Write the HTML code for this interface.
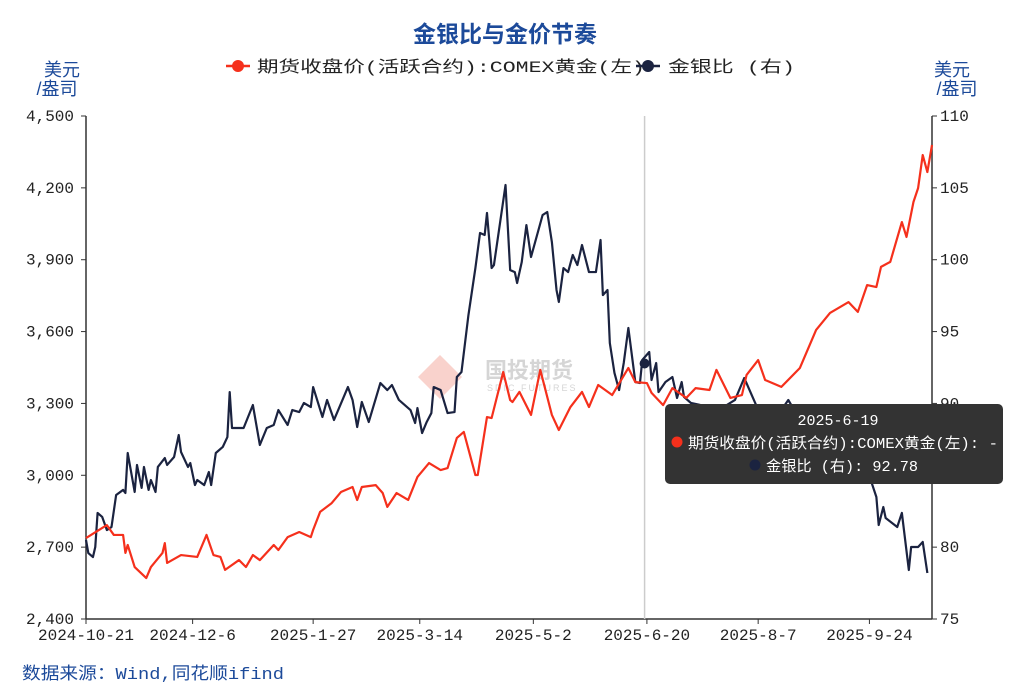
<!DOCTYPE html>
<html><head><meta charset="utf-8"><style>
body{margin:0;background:#fff;width:1022px;height:691px;overflow:hidden;font-family:"Liberation Sans","Noto Sans CJK SC",sans-serif}
svg text{font-family:"Liberation Sans","Noto Sans CJK SC",sans-serif}
svg text.m{font-family:"Liberation Mono","Noto Sans CJK SC",monospace}
</style></head><body>
<svg id="c" width="1022" height="691">
<text x="505" y="42" text-anchor="middle" font-size="23" font-weight="bold" fill="#1c4a9a">金银比与金价节奏</text>
<g>
<g><line x1="226" y1="66" x2="250" y2="66" stroke="#f5301c" stroke-width="2.5"/><circle cx="238" cy="66" r="6" fill="#f5301c"/><text class="m" x="257" y="72" font-size="16" fill="#222" textLength="388" lengthAdjust="spacingAndGlyphs">期货收盘价(活跃合约):COMEX黄金(左)</text></g>
<g><line x1="636" y1="66" x2="660" y2="66" stroke="#1b2340" stroke-width="2.5"/><circle cx="648" cy="66" r="6" fill="#1b2340"/><text class="m" x="668" y="72" font-size="16" fill="#222" textLength="127" lengthAdjust="spacingAndGlyphs">金银比 (右)</text></g>
</g>
<text x="62" y="76" text-anchor="middle" font-size="18" fill="#1c4a9a">美元</text>
<text x="57" y="95" text-anchor="middle" font-size="18" fill="#1c4a9a">/盎司</text>
<text x="952" y="76" text-anchor="middle" font-size="18" fill="#1c4a9a">美元</text>
<text x="957" y="95" text-anchor="middle" font-size="18" fill="#1c4a9a">/盎司</text>
<g opacity="0.35">
<polygon points="440,355 462,377 440,399 418,377" fill="#f08070"/>
<text x="485" y="378" font-size="22" font-weight="bold" fill="#888">国投期货</text>
<text x="487" y="391" font-size="9" fill="#888" letter-spacing="2">SDIC FUTURES</text>
</g>
<g id="axes"></g>
<g id="series"></g>
<g id="tip"></g>
<text class="m" x="22" y="679" font-size="17" fill="#1c4a9a" textLength="262" lengthAdjust="spacingAndGlyphs">数据来源：Wind,同花顺ifind</text>
</svg>
<script>
const goldDays=[0,9,12,16,17,18,21,26,28,33,34,35,41,48,52,55,58,60,66,69,72,75,81,83,87,92,97,98,101,106,110,115,117,119,125,128,130,134,139,143,148,153,156,160,163,168,169,173,175,180,183,184,187,192,196,201,204,209,214,217,221,227,234,237,242,244,249,253,259,263,269,272,278,283,285,290,293,300,308,315,321,329,333,337,341,343,347,350,352,354,357,359,361,363,365];
const goldPrice=[2738,2792,2751,2751,2676,2709,2617,2571,2617,2676,2717,2634,2667,2659,2751,2667,2659,2605,2646,2617,2667,2646,2709,2688,2742,2763,2742,2772,2847,2884,2930,2951,2897,2951,2959,2926,2868,2926,2897,2993,3051,3022,3030,3156,3181,3001,3001,3243,3239,3431,3314,3306,3348,3252,3440,3252,3189,3285,3348,3285,3377,3335,3448,3389,3385,3344,3293,3364,3323,3364,3356,3440,3323,3335,3419,3481,3398,3369,3448,3607,3678,3723,3682,3794,3786,3870,3891,3991,4057,3995,4141,4199,4337,4266,4379];
const ratioDays=[0,1,3,4,5,7,9,11,13,16,17,18,21,22,24,25,27,28,30,31,34,35,38,40,41,44,45,47,48,51,53,54,56,59,61,62,63,68,72,75,78,81,83,87,89,92,94,97,98,102,104,107,113,115,117,119,122,127,130,132,135,140,142,143,145,147,149,150,153,156,159,160,162,165,168,170,172,173,175,176,181,183,185,186,188,190,192,197,199,201,203,204,206,208,210,212,214,217,220,222,223,225,226,228,230,232,234,237,239,240,243,244,246,247,250,253,255,257,258,261,265,273,280,284,291,297,303,308,316,325,334,339,341,342,344,345,350,352,355,356,359,361,363];
const ratioValue=[80.5,79.59,79.31,80.01,82.38,82.1,81.19,81.4,83.63,83.98,83.77,86.55,83.84,85.72,84.12,85.58,83.98,84.67,83.84,85.58,86.2,85.72,86.27,87.8,86.62,85.58,85.85,84.32,84.67,84.32,85.23,84.32,86.55,86.97,87.66,90.79,88.29,88.29,89.89,87.11,88.29,88.5,89.54,88.5,89.54,89.4,90.03,89.75,91.14,89.06,90.24,88.85,91.14,90.24,88.36,90.1,88.71,91.42,90.93,91.28,90.24,89.54,88.64,89.68,87.94,88.71,89.33,91.14,90.93,89.33,89.4,91.84,92.19,96.15,99.42,101.86,101.72,103.25,99.42,99.63,105.2,99.28,99.14,98.38,99.84,102.41,100.19,103.11,103.32,101.23,97.89,97.06,99.42,99.14,100.33,99.63,101.02,99.14,99.14,101.37,97.54,97.89,94.2,92.12,90.93,92.81,95.25,91.49,91.42,93.02,93.58,91.63,92.81,90.79,91.49,91.84,90.38,91.49,90.45,90.03,89.89,89.54,90.24,91.77,89.19,88.85,90.24,88.85,88.15,87.11,86.06,84.46,83.49,81.54,82.79,82.03,81.4,82.38,78.41,80.01,80.01,80.36,78.2];
const leftTicks=[2400,2700,3000,3300,3600,3900,4200,4500];
const leftTickLabels=["2,400","2,700","3,000","3,300","3,600","3,900","4,200","4,500"];
const rightTicks=[75,80,85,90,95,100,105,110];
const xTickDays=[0,46,98,144,193,242,290,338];
const xTickLabels=["2024-10-21","2024-12-6","2025-1-27","2025-3-14","2025-5-2","2025-6-20","2025-8-7","2025-9-24"];
const hoverDay=241, hoverLabel="2025-6-19", hoverRatio=92.78;

const X0=86,X1=932,Y0=619,Y1=116;
const xs=d=>X0+d*(X1-X0)/365;
const yl=v=>Y0-(v-2400)*(Y0-Y1)/2100;
const yr=v=>Y0-(v-75)*(Y0-Y1)/35;
const NS="http://www.w3.org/2000/svg";
function mk(t,a,p){const e=document.createElementNS(NS,t);for(const k in a)e.setAttribute(k,a[k]);p.appendChild(e);return e;}
const ax=document.getElementById('axes');
let e=mk('line',{x1:X0,y1:Y1,x2:X0,y2:Y0,stroke:'#333','stroke-width':1.5},ax);


e=mk('line',{x1:X1,y1:Y1,x2:X1,y2:Y0,stroke:'#333','stroke-width':1.5},ax);


e=mk('line',{x1:X0,y1:Y0,x2:X1,y2:Y0,stroke:'#333','stroke-width':1.5},ax);


leftTicks.forEach((v,i)=>{const y=yl(v);
mk('line',{x1:X0-5,y1:y,x2:X0,y2:y,stroke:'#333'},ax);
const t=mk('text',{class:'m',x:X0-12,y:y+5,'text-anchor':'end','font-size':16,fill:'#222'},ax);t.textContent=leftTickLabels[i];

});
rightTicks.forEach(v=>{const y=yr(v);
mk('line',{x1:X1,y1:y,x2:X1+5,y2:y,stroke:'#333'},ax);
const t=mk('text',{class:'m',x:X1+8,y:y+5,'font-size':16,fill:'#222'},ax);t.textContent=v;

});
xTickDays.forEach((d,i)=>{const x=xs(d);
mk('line',{x1:x,y1:Y0,x2:x,y2:Y0+5,stroke:'#333'},ax);
const t=mk('text',{class:'m',x:x,y:Y0+21,'text-anchor':'middle','font-size':16,fill:'#222'},ax);t.textContent=xTickLabels[i];

});
const sg=document.getElementById('series');
const hx=xs(hoverDay);
e=mk('line',{x1:hx,y1:Y1,x2:hx,y2:Y0,stroke:'#ccc','stroke-width':1.5},sg);


e=mk('polyline',{points:ratioDays.map((d,i)=>xs(d)+','+yr(ratioValue[i])).join(' '),fill:'none',stroke:'#1b2340','stroke-width':2.2,'stroke-linejoin':'round'},sg);


e=mk('polyline',{points:goldDays.map((d,i)=>xs(d)+','+yl(goldPrice[i])).join(' '),fill:'none',stroke:'#f5301c','stroke-width':2.2,'stroke-linejoin':'round'},sg);


e=mk('circle',{cx:hx,cy:yr(hoverRatio),r:5,fill:'#1b2340'},sg);


const tg=document.getElementById('tip');


mk('rect',{x:665,y:404,width:338,height:80,rx:5,fill:'#333'},tg);
let t=mk('text',{class:'m',x:838,y:425,'text-anchor':'middle','font-size':15,fill:'#fff'},tg);t.textContent=hoverLabel;
mk('circle',{cx:677,cy:442,r:5.5,fill:'#f5301c'},tg);
t=mk('text',{class:'m',x:688,y:448,'font-size':15,fill:'#fff',textLength:310,lengthAdjust:'spacingAndGlyphs'},tg);t.textContent='期货收盘价(活跃合约):COMEX黄金(左): -';
mk('circle',{cx:755,cy:465,r:5.5,fill:'#1b2340'},tg);
t=mk('text',{class:'m',x:766,y:471,'font-size':15,fill:'#fff',textLength:152,lengthAdjust:'spacingAndGlyphs'},tg);t.textContent='金银比 (右): '+hoverRatio;
</script>
</body></html>
